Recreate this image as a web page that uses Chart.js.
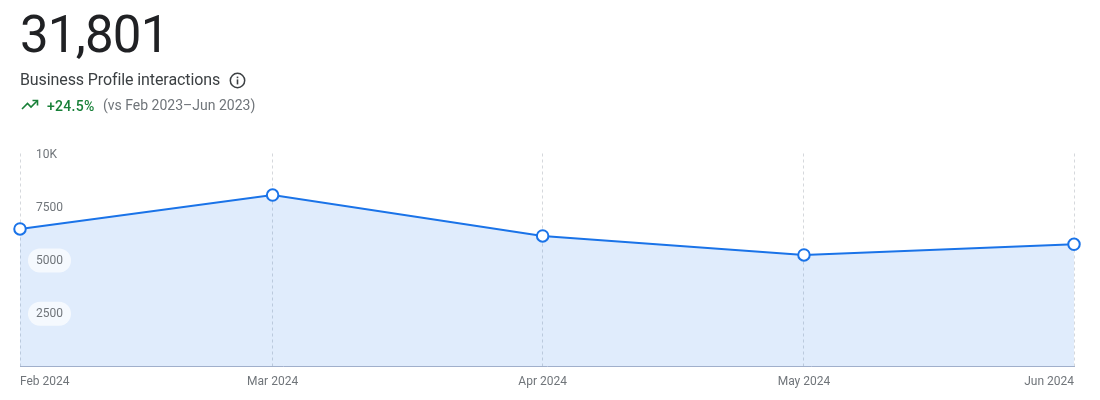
<!DOCTYPE html>
<html>
<head>
<meta charset="utf-8">
<style>
  html, body { margin: 0; padding: 0; background: #fff; width: 1100px; height: 400px; overflow: hidden; font-family: Roboto, sans-serif; }
  #myChart { position: absolute; left: 0; top: 0; }
  .txt { position: absolute; white-space: nowrap; }
  #total { left: 20px; top: 4px; font-size: 51px; line-height: 61px; color: #202124; letter-spacing: -0.8px; }
  #name { left: 20px; top: 70px; font-size: 16px; line-height: 20px; color: #3c4043; letter-spacing: -0.1px; }
  #info { position: absolute; left: 229px; top: 72px; }
  #trend { position: absolute; left: 21px; top: 98px; }
  #pct { left: 47px; top: 97px; font-size: 14px; line-height: 18px; font-weight: 500; color: #188038; letter-spacing: 0.3px; }
  #cmp { left: 103px; top: 96px; font-size: 14px; line-height: 18px; color: #70757a; }
</style>
</head>
<body>
<canvas id="myChart" width="1100" height="400"></canvas>
<div class="txt" id="total">31,801</div>
<div class="txt" id="name">Business Profile interactions</div>
<svg id="info" width="17" height="17" viewBox="0 0 17 17">
  <circle cx="8.5" cy="8.5" r="7.2" fill="none" stroke="#3c4043" stroke-width="1.5"/>
  <rect x="7.7" y="7.4" width="1.6" height="5" fill="#3c4043"/>
  <rect x="7.7" y="4.6" width="1.6" height="1.6" fill="#3c4043"/>
</svg>
<svg id="trend" width="18" height="14" viewBox="0 0 18 14">
  <path d="M1 11 L6.5 5.5 L10 9 L16 3" fill="none" stroke="#188038" stroke-width="1.6"/>
  <path d="M11.5 2.5 H16.5 V7.5" fill="none" stroke="#188038" stroke-width="1.6"/>
</svg>
<div class="txt" id="pct">+24.5%</div>
<div class="txt" id="cmp">(vs Feb 2023–Jun 2023)</div>

<script src="https://cdn.jsdelivr.net/npm/chart.js@4"></script>
<script>
var months = ["Feb 2024", "Mar 2024", "Apr 2024", "May 2024", "Jun 2024"];
var dayOffsets = [0, 29, 60, 90, 121];   // days since Feb 1, the axis is a real calendar
var interactions = [6460, 8050, 6130, 5240, 5740];
var yTicks = [2500, 5000, 7500, 10000];
var yLabels = ["2500", "5000", "7500", "10K"];

// pills behind the y labels, they sit on top of the area fill
var labelPills = {
  id: "labelPills",
  afterDatasetsDraw: function (chart) {
    var ctx = chart.ctx;
    var y = chart.scales.y;
    ctx.save();
    ctx.fillStyle = "rgba(255,255,255,0.7)";
    yTicks.forEach(function (v) {
      ctx.beginPath();
      ctx.roundRect(28, y.getPixelForValue(v) - 11.5, 43, 24, 12);
      ctx.fill();
    });
    ctx.restore();
  }
};

new Chart("myChart", {
  type: "line",
  data: {
    datasets: [{
      data: dayOffsets.map(function (d, i) { return { x: d, y: interactions[i] }; }),
      borderColor: "#1a73e8",
      borderWidth: 2,
      backgroundColor: "rgba(26,115,232,0.135)",
      fill: "origin",
      tension: 0,
      clip: false,
      pointRadius: 5.75,
      pointBorderWidth: 2,
      pointBackgroundColor: "#fff",
      pointBorderColor: "#1a73e8"
    }]
  },
  options: {
    responsive: false,
    animation: false,
    layout: { padding: { left: 20, right: 26, top: 153.5, bottom: 3 } },
    plugins: { legend: { display: false }, tooltip: { enabled: false } },
    scales: {
      x: {
        type: "linear",
        min: 0,
        max: 121,
        afterBuildTicks: function (axis) {
          axis.ticks = dayOffsets.map(function (d) { return { value: d }; });
        },
        grid: { color: "#d5d8dc", drawTicks: false },
        border: { color: "#a3b1cc", width: 1, dash: [3, 3] },
        ticks: {
          align: "inner",
          maxRotation: 0,
          autoSkip: false,
          padding: 8,
          color: "#70757a",
          font: { family: "Roboto", size: 12 },
          callback: function (v) { return months[dayOffsets.indexOf(v)]; }
        }
      },
      y: {
        min: 0,
        max: 10000,
        afterBuildTicks: function (axis) {
          axis.ticks = yTicks.map(function (v) { return { value: v }; });
        },
        afterFit: function (axis) { axis.width = 0; },
        grid: { display: false, drawTicks: false },
        border: { display: false },
        ticks: {
          mirror: true,
          z: 1,
          padding: 16,
          labelOffset: 1,
          color: "#70757a",
          font: { family: "Roboto", size: 12 },
          callback: function (v) { return yLabels[yTicks.indexOf(v)]; }
        }
      }
    }
  },
  plugins: [labelPills]
});
</script>
</body>
</html>
